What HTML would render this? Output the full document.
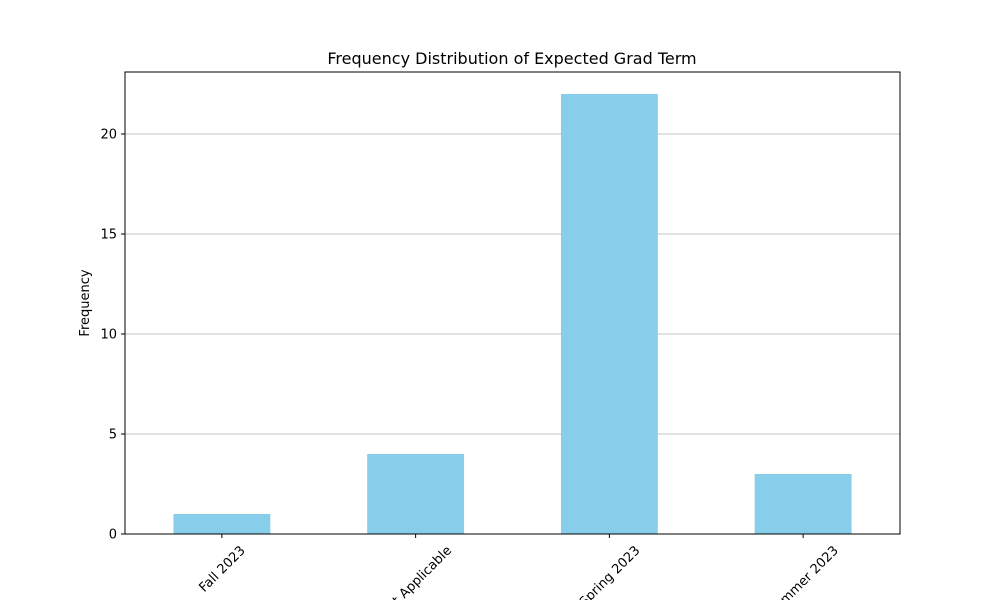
<!DOCTYPE html>
<html><head><meta charset="utf-8"><style>body{margin:0;background:#fff}svg{display:block;font-family:"DejaVu Sans","Liberation Sans",sans-serif}</style></head>
<body>
<svg id="chart" width="1000" height="600" viewBox="0 0 1000 600">
<rect width="1000" height="600" fill="#fff"/>
<g id="grid"></g><g id="bars"></g><g id="axes"></g>
<text x="512" y="64" text-anchor="middle" font-size="16">Frequency Distribution of Expected Grad Term</text>
<text transform="translate(89,303) rotate(-90)" text-anchor="middle" font-size="13">Frequency</text>
</svg>
<script>
const categories = ["Fall 2023", "Not Applicable", "Spring 2023", "Summer 2023"];
const counts = [1, 4, 22, 3];
const yTicks = [0, 5, 10, 15, 20];
const NS = "http://www.w3.org/2000/svg";
const L = 125, R = 900, T = 72, B = 534;
const yMax = Math.max(...counts) * 1.05;
const y = v => B - v / yMax * (B - T);
const step = (R - L) / categories.length;
const x = i => L + step * (i + 0.5);
const bw = step * 0.5;
function mk(tag, attrs, parent) { const e = document.createElementNS(NS, tag); for (const k in attrs) e.setAttribute(k, attrs[k]); parent.appendChild(e); return e; }
const grid = document.getElementById('grid'), bars = document.getElementById('bars'), axes = document.getElementById('axes');
yTicks.forEach(t => {
  const gl = mk('line', {x1: L, x2: R, y1: y(t), y2: y(t), stroke: '#b0b0b0', 'stroke-width': 0.8}, grid);
  
  
  const tk = mk('line', {x1: L - 4, x2: L, y1: y(t), y2: y(t), stroke: '#000'}, axes);
  
  
  const tl = mk('text', {x: L - 8, y: y(t) + 4.5, 'text-anchor': 'end', 'font-size': 13}, axes);
  tl.textContent = t;
  
  
});
categories.forEach((c, i) => {
  const r = mk('rect', {x: x(i) - bw / 2, y: y(counts[i]), width: bw, height: B - y(counts[i]), fill: '#87ceeb'}, bars);
  
  
  const tk = mk('line', {x1: x(i), x2: x(i), y1: B, y2: B + 4, stroke: '#000'}, axes);
  
  
  const tl = mk('text', {x: 0, y: 0, 'text-anchor': 'middle', 'font-size': 13}, axes);
  tl.textContent = c;
  
  
  const w = tl.getComputedTextLength();
  const h = (w + 14) * Math.SQRT1_2;
  tl.setAttribute('transform', `translate(${x(i)},${B + 9 + h / 2}) rotate(-45) translate(0,4.5)`);
});
const fr = mk('rect', {x: L, y: T, width: R - L, height: B - T, fill: 'none', stroke: '#000', 'stroke-width': 1}, axes);


</script>
</body></html>
